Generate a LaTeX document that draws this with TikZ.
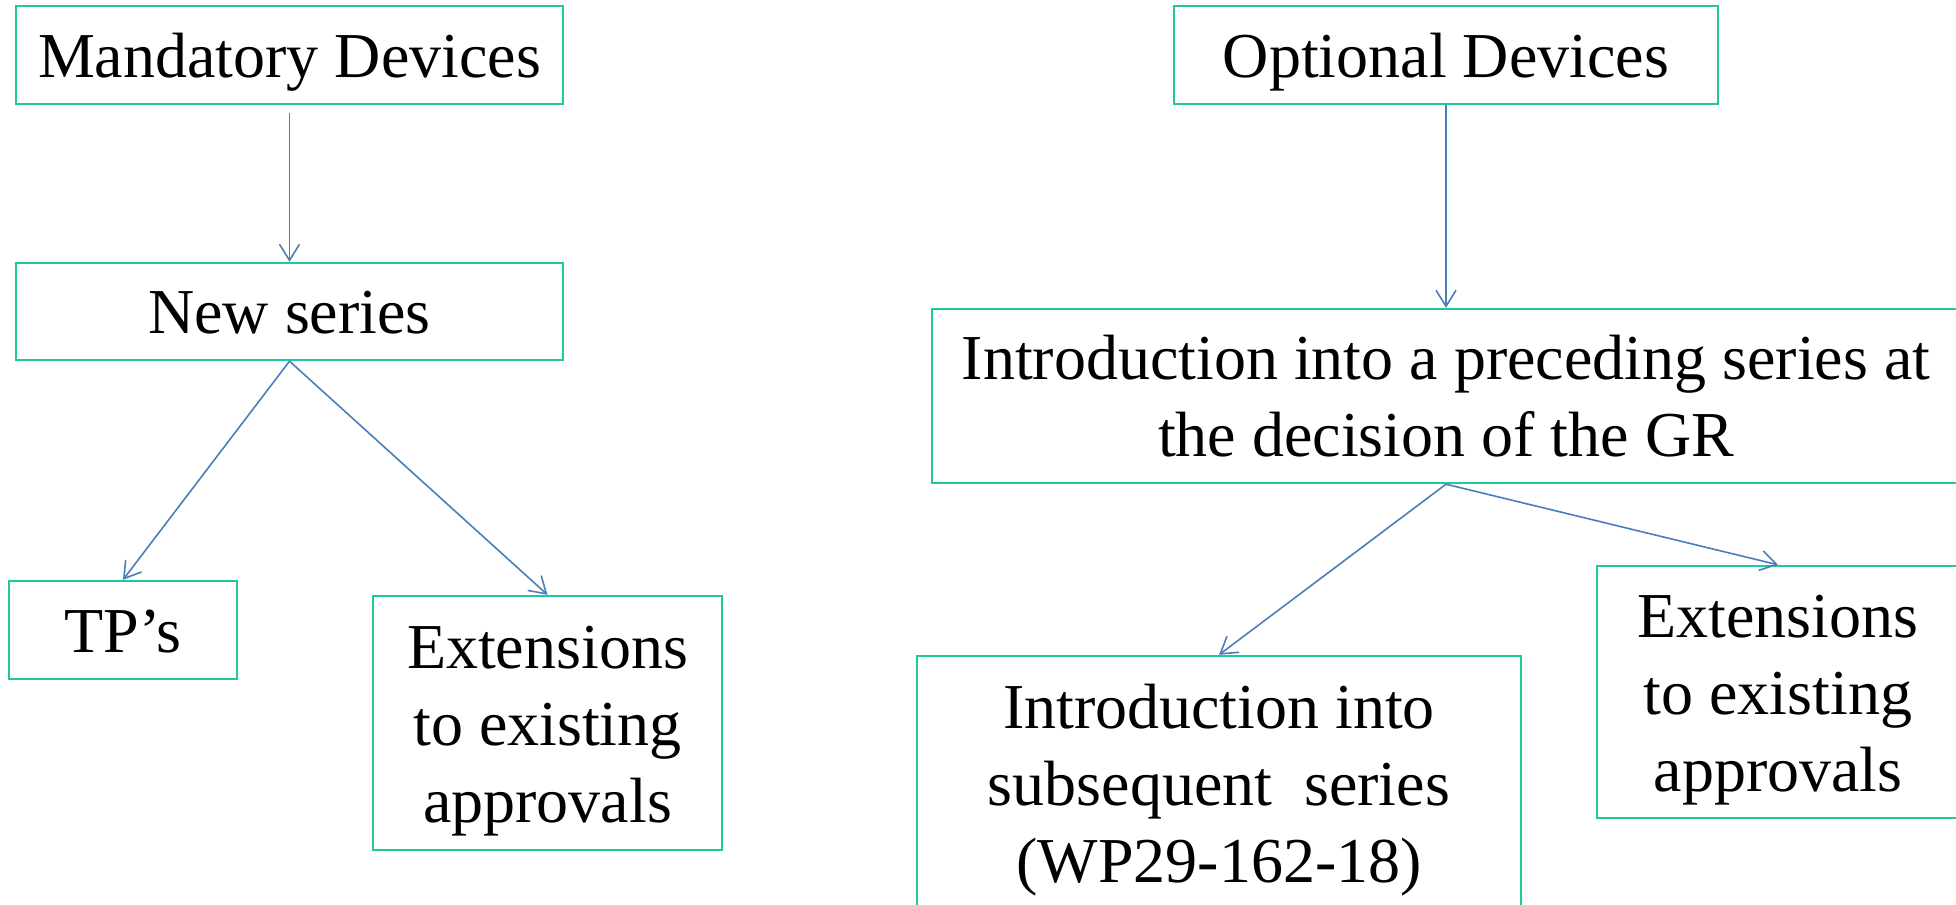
\documentclass[tikz,border=0pt]{standalone}
\usepackage{fontspec}
\setmainfont{Liberation Serif}
\usetikzlibrary{arrows.meta}
\definecolor{boxgreen}{HTML}{1FC99A}
\definecolor{arrowblue}{HTML}{4A7EBB}
% line struts as in the slide text boxes
\newcommand{\topstrut}{\rule[-8pt]{0pt}{38pt}}
\newcommand{\botstrut}{\rule[-8pt]{0pt}{0pt}}

\begin{document}
\begin{tikzpicture}[x=0.5pt, y=-0.5pt,
        devbox/.style={draw=boxgreen, line width=1.2pt, inner sep=0pt, align=center,
            font=\fontsize{32pt}{38.5pt}\selectfont},
        link/.style={draw=arrowblue, line width=0.8pt,
            -{Straight Barb[length=8pt, width=10pt]}}]
        \useasboundingbox (0, 0) rectangle (1956, 905);

        % mandatory side
        \node[devbox, minimum width=273.5pt, minimum height=49pt] (mand) at (289.5, 55) {\topstrut Mandatory Devices};
        \node[devbox, minimum width=273.5pt, minimum height=48.5pt] (new) at (289.5, 311.5) {\topstrut New series};
        \node[devbox, minimum width=114pt, minimum height=49pt] (tps) at (123, 630) {\topstrut TP’s};
        \node[devbox, minimum width=174.5pt, minimum height=127pt] (extl) at (547.5, 723) {\topstrut Extensions\\to existing\\approvals\botstrut};

        % optional side
        \node[devbox, minimum width=272pt, minimum height=49pt] (opt) at (1446, 55) {\topstrut Optional Devices};
        \node[devbox, minimum width=514pt, minimum height=87pt] (prec) at (1446, 396) {\topstrut Introduction into a preceding series at\\the decision of the GR\botstrut};
        \node[devbox, minimum width=302pt, minimum height=127pt] (subs) at (1219, 783) {\topstrut Introduction into\\subsequent~ series\\(WP29-162-18)\botstrut};
        \node[devbox, minimum width=181pt, minimum height=126pt] (extr) at (1778, 692) {\topstrut Extensions\\to existing\\approvals\botstrut};

        \draw[link, shorten <=4pt] (mand) -- (new);
        \draw[link] (new.south) -- (tps.north);
        \draw[link] (new.south) -- (extl.north);
        \draw[link] (opt.south) -- (prec.north);
        \draw[link] (prec.south) -- (subs.north);
        \draw[link] (prec.south) -- (extr.north);
    \end{tikzpicture}
\end{document}
